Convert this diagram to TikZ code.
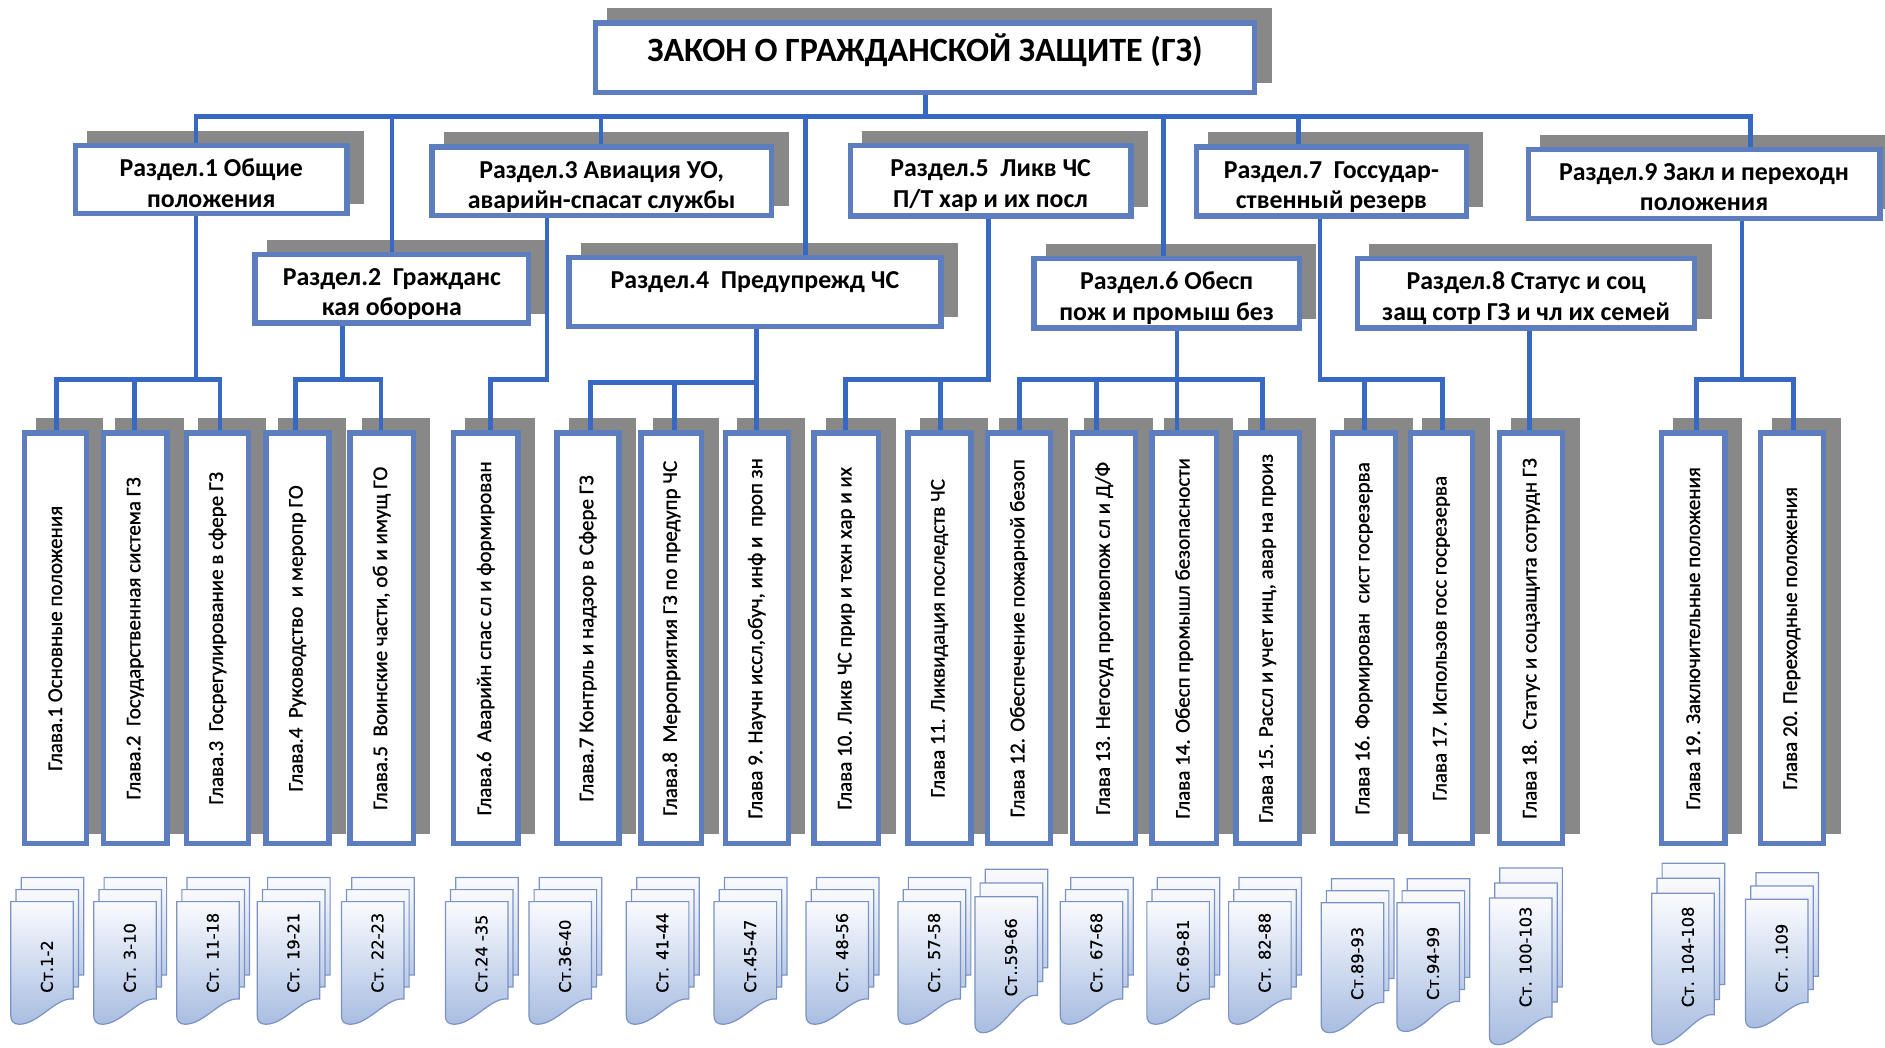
\documentclass[tikz,border=0pt]{standalone}
\usepackage{fontspec}
\setmainfont{Carlito}
\newfontfamily\chfont[FakeBold=0.9]{Carlito}
\newfontfamily\artfont[FakeBold=0.4]{DejaVu Sans}
\usetikzlibrary{calc}
\definecolor{boxblue}{RGB}{92,126,190}
\definecolor{lineblue}{RGB}{55,105,195}
\definecolor{shadowgray}{RGB}{136,136,136}
\definecolor{sheettop}{RGB}{250,251,254}
\definecolor{sheetbot}{RGB}{168,189,225}
\definecolor{sheetedge}{RGB}{122,146,196}
\pgfdeclarelayer{bglayer}
\pgfdeclarelayer{shadowlayer}
\pgfdeclarelayer{connlayer}
\pgfsetlayers{bglayer,shadowlayer,connlayer,main}

\newcommand{\boxnode}[5]{%
  \node[boxstyle, minimum width={#4-#2-4.5}, minimum height={#5-#3-4.5}] (#1) at ({(#2+#4)/2},{(#3+#5)/2}) {};
  \begin{pgfonlayer}{shadowlayer}
    \fill[shadowgray] ({#2+12},{#3-10}) rectangle ({#4+12},{#5-10});
  \end{pgfonlayer}%
}
\newcommand{\docstack}[8]{% name, x0, yt, yb, c, dy, text start, label
  \foreach \k in {2,1,0}{%
    \pgfmathsetmacro{\ox}{#2+4.3*\k}%
    \pgfmathsetmacro{\oyt}{#3-#6*\k}%
    \pgfmathsetmacro{\oyb}{#4-#6*\k}%
    \path[sheet] (\ox,\oyt) -- ({\ox+52},\oyt) -- ({\ox+52},{\oyb-#5}) -- ({\ox+49},{\oyb-#5})
      .. controls ({\ox+36},{\oyb-#5+1}) and ({\ox+22},\oyb) .. ({\ox+7},\oyb)
      .. controls ({\ox+2},\oyb) and (\ox,{\oyb-3}) .. (\ox,{\oyb-7}) -- cycle;
  }%
  \node[arttext, anchor=west] (#1) at ({#2+30},#7) {#8};
}

\begin{document}
\begin{tikzpicture}[x=1pt,y=-1pt,
  boxstyle/.style={draw=boxblue, line width=4.5pt, fill=white, inner sep=0pt},
  conn/.style={draw=lineblue, line width=4pt},
  titletext/.style={font=\bfseries\fontsize{28.3}{31}\selectfont, inner sep=0pt},
  sectext/.style={font=\bfseries\fontsize{21.5}{25}\selectfont, inner sep=0pt, align=center, anchor=north},
  chtext/.style={font=\chfont\fontsize{17.5}{20}\selectfont, inner sep=0pt, rotate=90},
  arttext/.style={font=\artfont\fontsize{13.5}{16}\selectfont, inner sep=0pt, rotate=90},
  sheet/.style={draw=sheetedge, line width=1pt, top color=sheettop, bottom color=sheetbot}]

\begin{pgfonlayer}{bglayer}
  \fill[white] (0,0) rectangle (1568,871);
\end{pgfonlayer}
\useasboundingbox (0,0) rectangle (1568,871);

% ---------- title and sections ----------
\boxnode{title}{493}{17}{1046}{79}
\node[titletext, anchor=base] (tt) at (769.5,51) {ЗАКОН О ГРАЖДАНСКОЙ ЗАЩИТЕ (ГЗ)};

\boxnode{s1}{60.5}{119}{291}{180}
\boxnode{s2}{210}{209.5}{442}{271}
\boxnode{s3}{357}{120}{644}{181.5}
\boxnode{s4}{471}{212}{785}{274}
\boxnode{s5}{705}{119}{943}{182}
\boxnode{s6}{858}{213}{1083}{275}
\boxnode{s7}{993}{120}{1222}{182}
\boxnode{s8}{1127}{213}{1412}{275}
\boxnode{s9}{1269}{122}{1566}{184}

\node[sectext] (st1) at ([yshift=-10.5pt]s1.north) {\strut Раздел.1 Общие\\\strut положения};
\node[sectext] (st2) at ([yshift=-10.5pt]s2.north) {\strut Раздел.2\ \ Гражданс\\\strut кая оборона};
\node[sectext] (st3) at ([yshift=-10.5pt]s3.north) {\strut Раздел.3 Авиация УО,\\\strut аварийн-спасат службы};
\node[sectext] (st4) at ([yshift=-10.5pt]s4.north) {\strut Раздел.4\ \ Предупрежд ЧС};
\node[sectext] (st5) at ([yshift=-10.5pt]s5.north) {\strut Раздел.5\ \ Ликв ЧС\\\strut П/Т хар и их посл};
\node[sectext] (st6) at ([yshift=-10.5pt]s6.north) {\strut Раздел.6 Обесп\\\strut пож и промыш без};
\node[sectext] (st7) at ([yshift=-10.5pt]s7.north) {\strut Раздел.7\ \ Госсудар-\\\strut ственный резерв};
\node[sectext] (st8) at ([yshift=-10.5pt]s8.north) {\strut Раздел.8 Статус и соц\\\strut защ сотр ГЗ и чл их семей};
\node[sectext] (st9) at ([yshift=-10.5pt]s9.north) {\strut Раздел.9 Закл и переходн\\\strut положения};

% ---------- chapters ----------
\foreach \n/\xl/\xr in {1/18/74, 2/84/141, 3/153/209, 4/219/276, 5/289/346,
  6/375/433, 7/461/517, 8/531/586, 9/601/658, 10/675/733, 11/753/810,
  12/819/876, 13/890/947, 14/956/1014, 15/1026/1083, 16/1106/1163,
  17/1171/1227, 18/1245/1302, 19/1380/1437, 20/1462/1519}
  {\boxnode{g\n}{\xl}{358}{\xr}{704}}

\node[chtext] (c1) at (g1) {Глава.1 Основные положения};
\node[chtext] (c2) at (g2) {Глава.2\ \ Государственная система ГЗ};
\node[chtext] (c3) at (g3) {Глава.3\ \ Госрегулирование в сфере ГЗ};
\node[chtext] (c4) at (g4) {Глава.4\ \ Руководство\ \ и меропр ГО};
\node[chtext] (c5) at (g5) {Глава.5\ \ Воинские части, об и имущ ГО};
\node[chtext] (c6) at (g6) {Глава.6\ \ Аварийн спас сл и формирован};
\node[chtext] (c7) at (g7) {Глава.7 Контрль и надзор в Сфере ГЗ};
\node[chtext] (c8) at (g8) {Глава.8\ \ Мероприятия ГЗ по предупр ЧС};
\node[chtext] (c9) at (g9) {Глава 9. Научн иссл,обуч, инф и\ \ проп зн};
\node[chtext] (c10) at (g10) {Глава 10. Ликв ЧС прир и техн хар и их};
\node[chtext] (c11) at (g11) {Глава 11. Ликвидация последств ЧС};
\node[chtext] (c12) at (g12) {Глава 12. Обеспечение пожарной безоп};
\node[chtext] (c13) at (g13) {Глава 13. Негосуд противопож сл и Д/Ф};
\node[chtext] (c14) at (g14) {Глава 14. Обесп промышл безопасности};
\node[chtext] (c15) at (g15) {Глава 15. Рассл и учет инц, авар на произ};
\node[chtext] (c16) at (g16) {Глава 16. Формирован\ \ сист госрезерва};
\node[chtext] (c17) at (g17) {Глава 17. Использов госс госрезерва};
\node[chtext] (c18) at (g18) {Глава 18.\ \ Статус и соцзащита сотрудн ГЗ};
\node[chtext] (c19) at (g19) {Глава 19. Заключительные положения};
\node[chtext] (c20) at (g20) {Глава 20. Переходные положения};

% ---------- connectors ----------
\coordinate (t0) at (770,97);
\coordinate (bL) at (163,97);
\coordinate (bR) at (1456,97);
\coordinate (d2) at (326,97);
\coordinate (d3) at (500,97);
\coordinate (d4) at (670,97);
\coordinate (d6) at (968,97);
\coordinate (d7) at (1080,97);
\coordinate (j1) at (163,316);  \coordinate (h1a) at (47,316);  \coordinate (h1b) at (112,316); \coordinate (h1c) at (183,316);
\coordinate (j2) at (285,316);  \coordinate (h2a) at (246,316); \coordinate (h2b) at (317,316);
\coordinate (j3) at (455,316);  \coordinate (h3a) at (408,316);
\coordinate (j4) at (629,318);  \coordinate (h4a) at (491,318); \coordinate (h4b) at (561,318);
\coordinate (j5) at (822,316);  \coordinate (h5a) at (703,316); \coordinate (h5b) at (782,316);
\coordinate (j6) at (979,316);  \coordinate (h6a) at (848,316); \coordinate (h6b) at (912,316); \coordinate (h6c) at (1050,316);
\coordinate (j7) at (1098,316); \coordinate (h7a) at (1135,316); \coordinate (h7b) at (1200,316);
\coordinate (j8) at (1272,316);
\coordinate (j9) at (1449,316); \coordinate (h9a) at (1411,316); \coordinate (h9b) at (1492,316);

\begin{pgfonlayer}{connlayer}
\draw[conn] (title.south -| t0) -- (t0);
\draw[conn] (s1.north -| bL) -- (bL) -- (bR) -- (s9.north -| bR);
\foreach \c/\s in {d2/s2, d3/s3, d4/s4, d6/s6, d7/s7}
  \draw[conn] (\c) -- (\s.north -| \c);
% R1
\draw[conn] (s1.south -| j1) -- (j1);
\draw[conn] (g1.north -| h1a) -- (h1a) -- (h1c) -- (g3.north -| h1c);
\draw[conn] (h1b) -- (g2.north -| h1b);
% R2
\draw[conn] (s2.south -| j2) -- (j2);
\draw[conn] (g4.north -| h2a) -- (h2a) -- (h2b) -- (g5.north -| h2b);
% R3
\draw[conn] (s3.south -| j3) -- (j3) -- (h3a) -- (g6.north -| h3a);
% R4
\draw[conn] (s4.south -| j4) -- (g9.north -| j4);
\draw[conn] (g7.north -| h4a) -- (h4a) -- (j4);
\draw[conn] (h4b) -- (g8.north -| h4b);
% R5
\draw[conn] (s5.south -| j5) -- (j5) -- (h5a) -- (g10.north -| h5a);
\draw[conn] (h5b) -- (g11.north -| h5b);
% R6
\draw[conn] (s6.south -| j6) -- (g14.north -| j6);
\draw[conn] (g12.north -| h6a) -- (h6a) -- (h6c) -- (g15.north -| h6c);
\draw[conn] (h6b) -- (g13.north -| h6b);
% R7
\draw[conn] (s7.south -| j7) -- (j7) -- (h7b) -- (g17.north -| h7b);
\draw[conn] (h7a) -- (g16.north -| h7a);
% R8
\draw[conn] (s8.south -| j8) -- (g18.north -| j8);
% R9
\draw[conn] (s9.south -| j9) -- (j9);
\draw[conn] (g19.north -| h9a) -- (h9a) -- (h9b) -- (g20.north -| h9b);
\end{pgfonlayer}

% ---------- article stacks ----------
\docstack{a1}{9}{750}{852}{21}{10}{826}{Ст.1-2}
\docstack{a2}{78}{750}{852}{21}{10}{826}{Ст. 3-10}
\docstack{a3}{147}{750}{852}{21}{10}{826}{Ст. 11-18}
\docstack{a4}{214}{750}{852}{21}{10}{826}{Ст. 19-21}
\docstack{a5}{284}{750}{852}{21}{10}{826}{Ст. 22-23}
\docstack{a6}{370.5}{750}{852}{21}{10}{826}{Ст.24 -35}
\docstack{a7}{440}{750}{852}{21}{10}{826}{Ст.36-40}
\docstack{a8}{521}{750}{852}{21}{10}{826}{Ст. 41-44}
\docstack{a9}{594}{750}{852}{21}{10}{826}{Ст.45-47}
\docstack{a10}{670.5}{750}{852}{21}{10}{826}{Ст. 48-56}
\docstack{a11}{747}{750}{852}{21}{10}{826}{Ст. 57-58}
\docstack{a12}{811}{746}{859}{31}{11.5}{829}{Ст..59-66}
\docstack{a13}{882}{750}{852}{21}{10}{826}{Ст. 67-68}
\docstack{a14}{954}{750}{852}{21}{10}{826}{Ст.69-81}
\docstack{a15}{1022}{750}{852}{21}{10}{826}{Ст. 82-88}
\docstack{a16}{1099}{751}{859}{25}{10}{832}{Ст.89-93}
\docstack{a17}{1162}{751}{858}{25}{10}{832}{Ст.94-99}
\docstack{a18}{1239}{747}{869}{23}{12.5}{838}{Ст. 100-103}
\docstack{a19}{1374}{743}{869}{25}{12.5}{838}{Ст. 104-108}
\docstack{a20}{1452}{748}{855}{21}{11}{826}{Ст. .109}

\end{tikzpicture}
\end{document}
